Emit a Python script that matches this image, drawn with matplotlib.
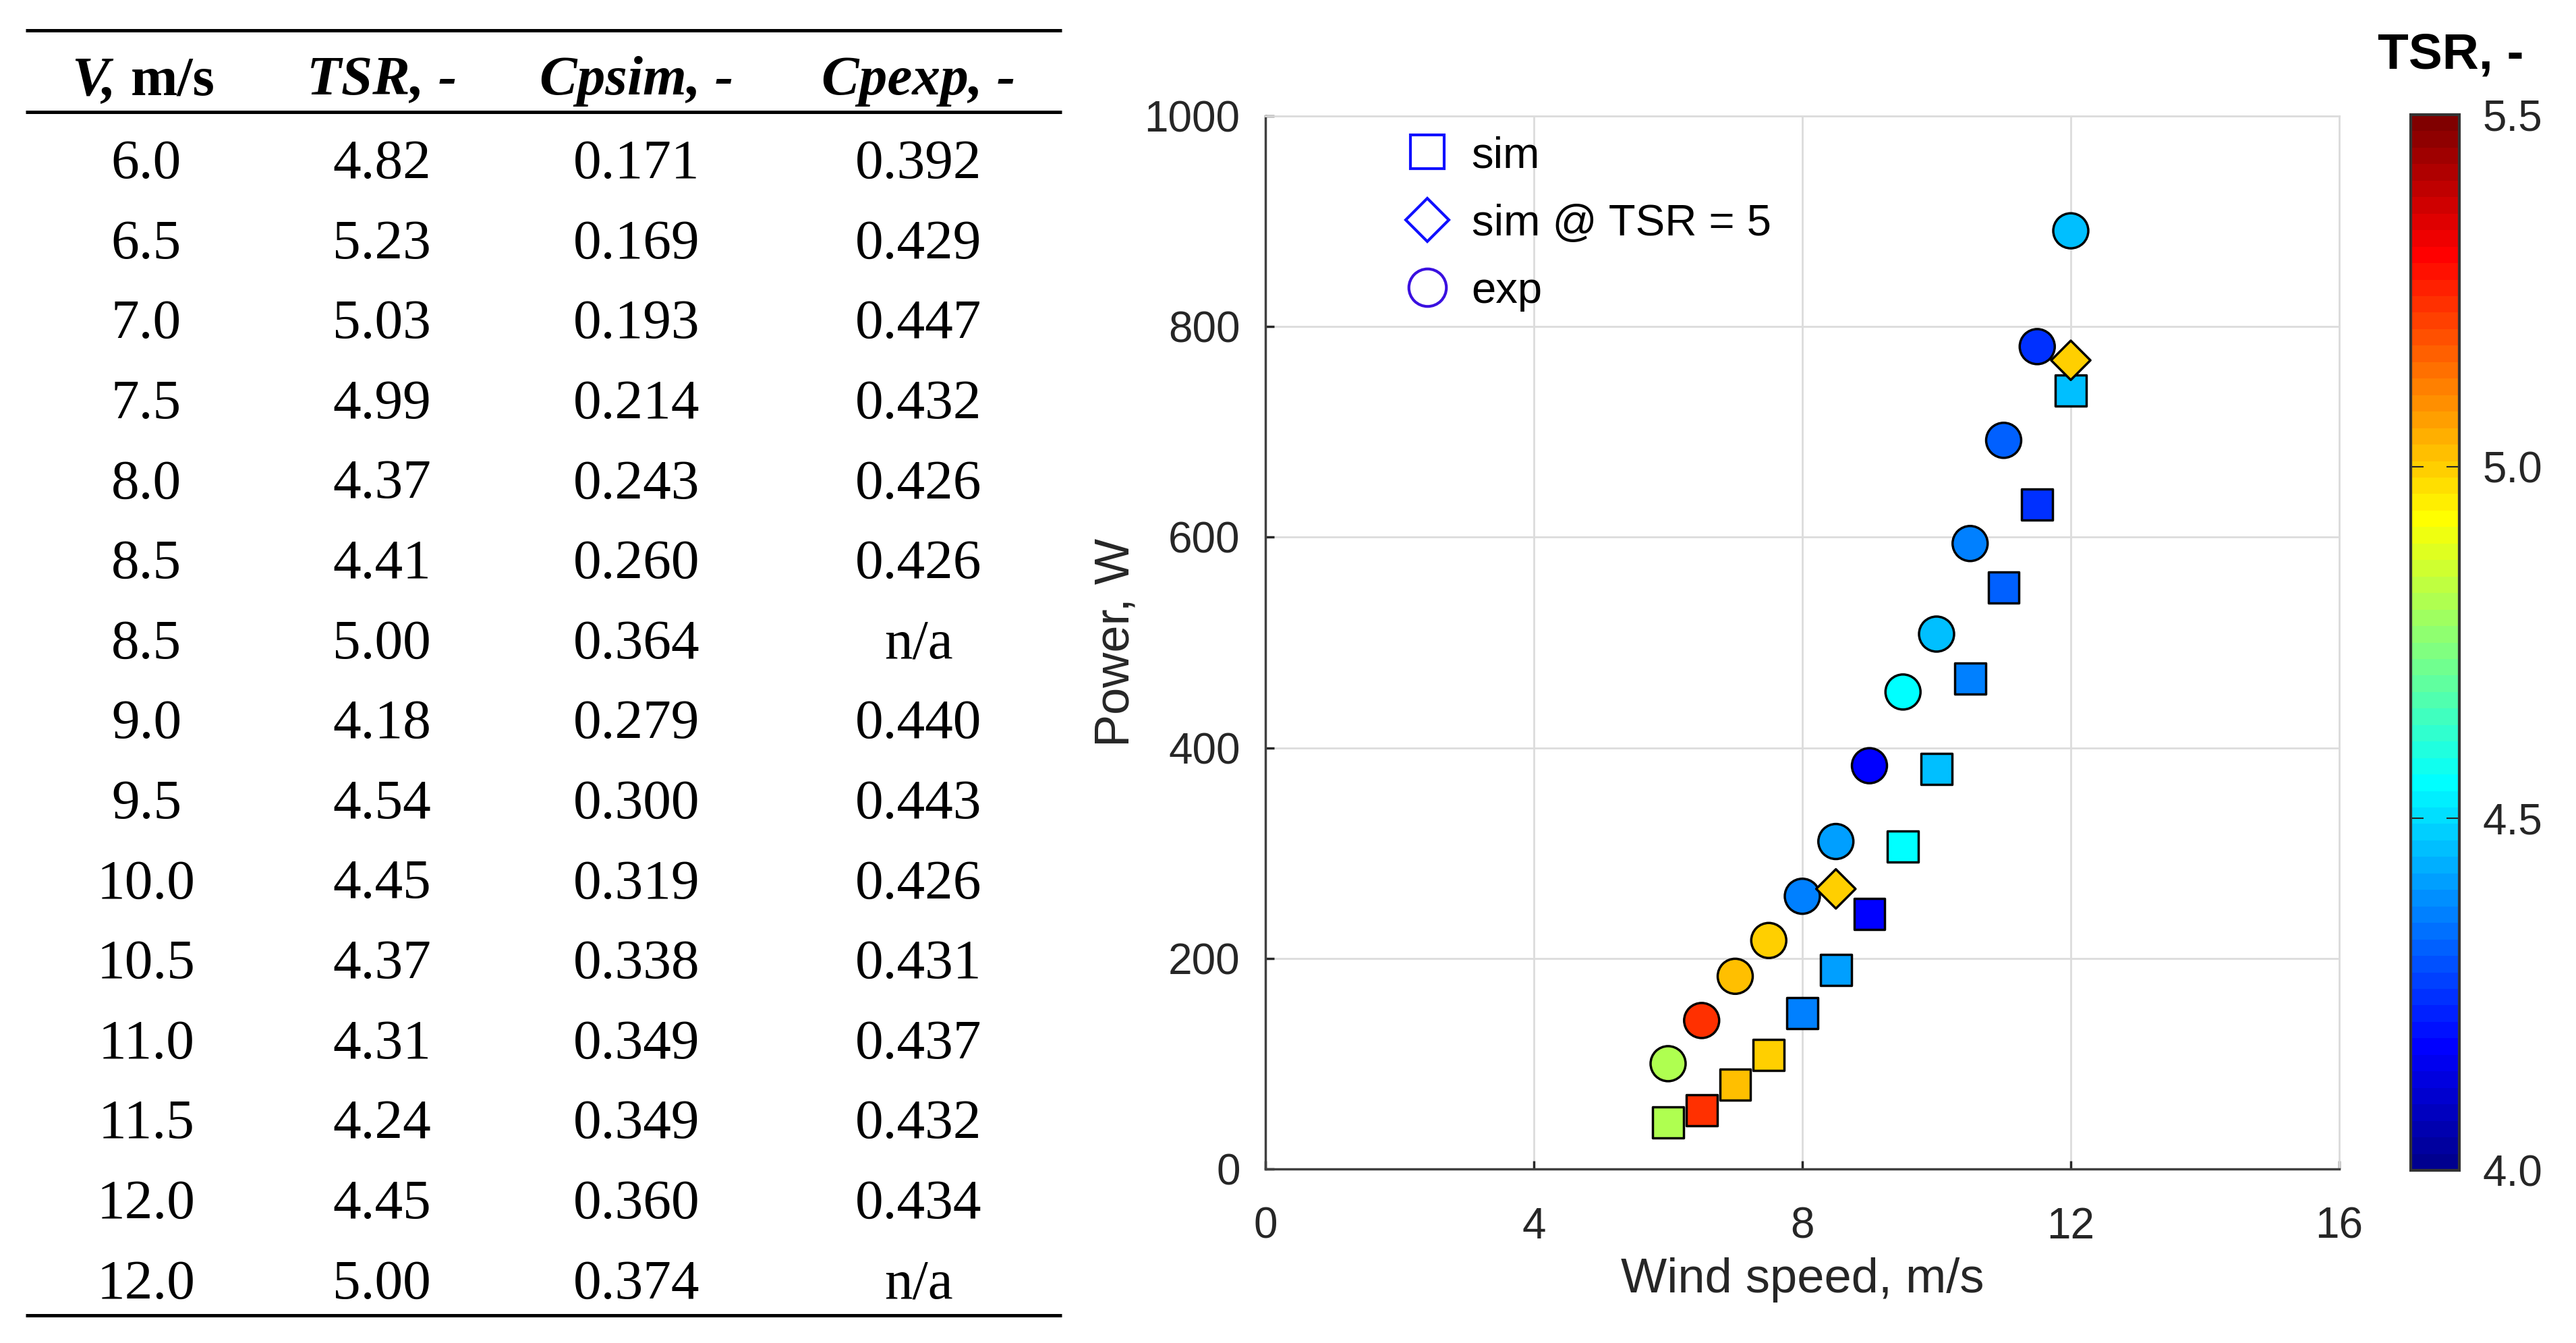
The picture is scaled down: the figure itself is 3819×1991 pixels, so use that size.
import matplotlib
matplotlib.use("Agg")
import matplotlib.pyplot as plt
from matplotlib.lines import Line2D
from matplotlib.text import Annotation
import matplotlib.colors as mcolors
import numpy as np

# ---------------- data ----------------
# table rows
tbl_wind = ["6.0", "6.5", "7.0", "7.5", "8.0", "8.5", "8.5", "9.0", "9.5", "10.0",
            "10.5", "11.0", "11.5", "12.0", "12.0"]
tbl_tsr = ["4.82", "5.23", "5.03", "4.99", "4.37", "4.41", "5.00", "4.18", "4.54",
           "4.45", "4.37", "4.31", "4.24", "4.45", "5.00"]
tbl_cpsim = ["0.171", "0.169", "0.193", "0.214", "0.243", "0.260", "0.364", "0.279",
             "0.300", "0.319", "0.338", "0.349", "0.349", "0.360", "0.374"]
tbl_cpexp = ["0.392", "0.429", "0.447", "0.432", "0.426", "0.426", "n/a", "0.440",
             "0.443", "0.426", "0.431", "0.437", "0.432", "0.434", "n/a"]
tbl_headers = ["V, m/s", "TSR, -", "Cpsim, -", "Cpexp, -"]

# scatter data
sim_wind = [6.0, 6.5, 7.0, 7.5, 8.0, 8.5, 9.0, 9.5, 10.0, 10.5, 11.0, 11.5, 12.0]
sim_tsr = [4.82, 5.23, 5.03, 4.99, 4.37, 4.41, 4.18, 4.54, 4.45, 4.37, 4.31, 4.24, 4.45]
sim_power = [44, 56, 80, 108, 148, 189, 242, 306, 380, 466, 552, 631, 739]

exp_wind = sim_wind
exp_tsr = sim_tsr
exp_power = [100, 141, 183, 217, 259, 311, 383, 453, 508, 594, 692, 781, 891]

tsr5_wind = [8.5, 12.0]
tsr5_tsr = [5.00, 5.00]
tsr5_power = [266, 768]

legend_labels = ["sim", "sim @ TSR = 5", "exp"]
cbar_ticks = [4.0, 4.5, 5.0, 5.5]


# ---------------- MATLAB-style jet(64) ----------------
def matlab_jet(m=64):
    n = int(np.ceil(m / 4))
    u = np.concatenate([np.arange(1, n + 1) / n, np.ones(n - 1), np.arange(n, 0, -1) / n])
    g = int(np.ceil(n / 2)) - (1 if m % 4 == 1 else 0) + np.arange(1, len(u) + 1)
    r = g + n
    b = g - n
    J = np.zeros((m, 3))
    mr = r <= m
    J[r[mr] - 1, 0] = u[mr]
    mg = g <= m
    J[g[mg] - 1, 1] = u[mg]
    mb = b >= 1
    J[b[mb] - 1, 2] = u[mb]
    return mcolors.ListedColormap(J, name="matlab_jet")


# ---------------- figure ----------------
W, H = 3819, 1991
DPI = 100
fig = plt.figure(figsize=(W / DPI, H / DPI), dpi=DPI)
fig.patch.set_facecolor("white")


def fx(px):
    return px / W


def fy(py):
    return 1 - py / H


# ---------------- table ----------------
serif = "Liberation Serif"
tfs = 60
col_x = [217, 566, 944, 1362]
row0, drow = 235, 118.6
half_digit = 29

for yy in [45, 166, 1950]:
    fig.add_artist(Line2D([fx(38), fx(1574)], [fy(yy), fy(yy)], color="black",
                          lw=3.6, solid_capstyle="butt"))

# headers
hdr_base = fy(110 + 30)
t_v = fig.text(fx(106), hdr_base, "V,", family=serif, style="italic", weight="bold",
               fontsize=tfs, ha="left", va="baseline")
ann = Annotation("m/s", xy=(1, 0), xycoords=t_v, xytext=(16, 0),
                 textcoords="offset points", family=serif, weight="bold",
                 fontsize=tfs, ha="left", va="bottom")
fig.add_artist(ann)
for x, h in zip(col_x[1:], tbl_headers[1:]):
    fig.text(fx(x), hdr_base, h, family=serif, style="italic", weight="bold",
             fontsize=tfs, ha="center", va="baseline")

for i in range(len(tbl_wind)):
    yb = fy(row0 + i * drow + half_digit)
    for x, col in zip(col_x, [tbl_wind, tbl_tsr, tbl_cpsim, tbl_cpexp]):
        fig.text(fx(x), yb, col[i], family=serif, fontsize=tfs,
                 ha="center", va="baseline", color="black")

# ---------------- scatter ----------------
sans = "Liberation Sans"
ax = fig.add_axes([fx(1876), fy(1733), fx(3468) - fx(1876), fy(172) - fy(1733)])
cmap = matlab_jet(64)
norm = mcolors.Normalize(vmin=4.0, vmax=5.5)

ax.set_xlim(0, 16)
ax.set_ylim(0, 1000)
ax.set_xticks([0, 4, 8, 12, 16])
ax.set_yticks([0, 200, 400, 600, 800, 1000])
ax.grid(True, color="#dcdcdc", lw=2.0, zorder=0)
ax.set_axisbelow(True)
for s in ["top", "right"]:
    ax.spines[s].set_color("#dcdcdc")
    ax.spines[s].set_linewidth(2.0)
for s in ["left", "bottom"]:
    ax.spines[s].set_color("#404040")
    ax.spines[s].set_linewidth(2.5)
ax.tick_params(axis="both", direction="in", length=9, width=2.5, color="#262626",
               labelsize=46, labelcolor="#262626")
ax.tick_params(axis="x", pad=40)
ax.tick_params(axis="y", pad=27)
for lab in ax.get_xticklabels() + ax.get_yticklabels():
    lab.set_family(sans)

ax.scatter(sim_wind, sim_power, c=sim_tsr, cmap=cmap, norm=norm, marker="s",
           s=1090, edgecolors="black", linewidths=2.5, zorder=3)
ax.scatter(exp_wind, exp_power, c=exp_tsr, cmap=cmap, norm=norm, marker="o",
           s=1400, edgecolors="black", linewidths=2.5, zorder=4)
ax.scatter(tsr5_wind, tsr5_power, c=tsr5_tsr, cmap=cmap, norm=norm, marker="D",
           s=880, edgecolors="black", linewidths=2.5, zorder=5)

ax.set_xlabel("Wind speed, m/s", family=sans, fontsize=52, color="#262626")
ax.xaxis.set_label_coords(0.5, -0.084)
ax.set_ylabel("Power, W", family=sans, fontsize=52, color="#262626", labelpad=6)

handles = [
    Line2D([], [], ls="none", marker="s", markersize=36, markerfacecolor="none",
           markeredgecolor="#1010ff", markeredgewidth=3),
    Line2D([], [], ls="none", marker="D", markersize=33, markerfacecolor="none",
           markeredgecolor="#1010ff", markeredgewidth=3),
    Line2D([], [], ls="none", marker="o", markersize=40, markerfacecolor="none",
           markeredgecolor="#3a10e0", markeredgewidth=3),
]
leg = ax.legend(handles, legend_labels, loc="upper left",
                bbox_to_anchor=(0.11, 0.998), frameon=False,
                prop={"family": sans, "size": 47}, labelspacing=0.62,
                handletextpad=0.4, handlelength=1.2, borderaxespad=0)

# ---------------- colorbar ----------------
cax = fig.add_axes([fx(3574), fy(1735), fx(3646) - fx(3574), fy(170) - fy(1735)])
sm = plt.cm.ScalarMappable(norm=norm, cmap=cmap)
cb = fig.colorbar(sm, cax=cax, ticks=cbar_ticks)
cb.ax.set_yticklabels([f"{t:.1f}" for t in cbar_ticks])
cb.outline.set_edgecolor("#333333")
cb.outline.set_linewidth(3)
cax.tick_params(axis="y", direction="in", left=True, right=True, length=14,
                width=1.5, color="#262626", labelsize=46, labelcolor="#262626",
                pad=25)
for lab in cax.get_yticklabels():
    lab.set_family(sans)

fig.text(fx(3633), fy(82), "TSR, -", family=sans, weight="bold", fontsize=54,
         ha="center", va="center", color="black")

fig.savefig("out.png", dpi=DPI, facecolor="white")
